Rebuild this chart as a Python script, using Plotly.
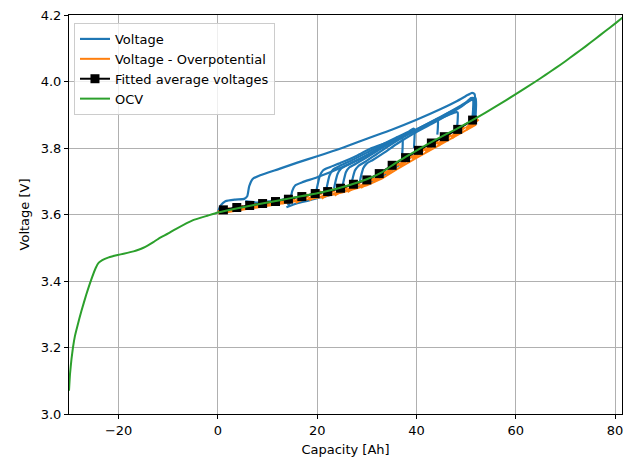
import plotly.graph_objects as go

# ---- Open-circuit voltage curve (capacity [Ah], voltage [V]) ----
ocv_cap = [-30.0, -29.8, -29.5, -29.2, -28.8, -28.3, -27.5, -26.5, -25.5, -24.6,
           -24.0, -23.3, -22.0, -20.2, -19.0, -17.0, -16.0, -15.0, -14.0, -13.0,
           -12.0, -10.0, -8.5, -5.0, -2.0, 0.0, 5.0, 10.0, 15.0, 20.0,
           25.0, 30.0, 33.0, 36.0, 40.0, 44.0, 48.0, 52.0, 56.0, 60.0,
           64.0, 66.0, 68.0, 70.0, 72.0, 74.0, 76.0, 78.0, 80.0, 82.0]
ocv_v = [3.070, 3.120, 3.165, 3.200, 3.235, 3.265, 3.310, 3.360, 3.405, 3.440,
         3.455, 3.463, 3.471, 3.478, 3.482, 3.489, 3.494, 3.500, 3.508, 3.517,
         3.527, 3.543, 3.556, 3.583, 3.597, 3.606, 3.622, 3.636, 3.650, 3.664,
         3.682, 3.706, 3.727, 3.757, 3.792, 3.826, 3.857, 3.890, 3.925, 3.962,
         4.000, 4.020, 4.040, 4.061, 4.083, 4.105, 4.128, 4.151, 4.174, 4.198]

# ---- Measured voltage, one list of (capacity, voltage) per charge run ----
run_0 = [(0.0, 3.608), (0.6, 3.628), (1.5, 3.640), (3.5, 3.645), (5.3, 3.647),
         (5.9, 3.655), (6.3, 3.685), (7.0, 3.707), (8.5, 3.718), (12.5, 3.738),
         (16.0, 3.756), (20.0, 3.775), (25.0, 3.800), (30.0, 3.828), (35.0, 3.855),
         (40.0, 3.885), (45.0, 3.918), (48.0, 3.940), (50.4, 3.960), (51.2, 3.966),
         (51.7, 3.962), (51.8, 3.930), (51.6, 3.895)]
run_14 = [(5.5, 3.640), (8.0, 3.636), (11.0, 3.640), (13.5, 3.645), (14.0, 3.635),
          (14.3, 3.628), (14.6, 3.645), (15.0, 3.672), (15.6, 3.688), (17.0, 3.697),
          (20.0, 3.712), (25.0, 3.742), (30.0, 3.778), (35.0, 3.818), (40.0, 3.856),
          (45.0, 3.895), (49.0, 3.928), (51.3, 3.948), (51.9, 3.950), (52.0, 3.930),
          (51.9, 3.895)]
run_20 = [(19.8, 3.668), (20.1, 3.690), (20.5, 3.715), (21.2, 3.733), (22.5, 3.742),
          (25.0, 3.757), (28.0, 3.777), (31.0, 3.800), (34.0, 3.816), (37.0, 3.830),
          (37.2, 3.826), (37.2, 3.800), (37.1, 3.776)]
run_22 = [(21.8, 3.672), (22.1, 3.694), (22.5, 3.718), (23.2, 3.735), (24.4, 3.745),
          (27.0, 3.763), (30.0, 3.786), (33.0, 3.810), (36.0, 3.832), (38.5, 3.850),
          (39.4, 3.858), (39.6, 3.855), (39.6, 3.830), (39.5, 3.800)]
run_23 = [(23.4, 3.678), (23.7, 3.700), (24.1, 3.722), (24.8, 3.738), (26.0, 3.748),
          (28.5, 3.766), (31.5, 3.792), (34.5, 3.818), (38.0, 3.842), (41.0, 3.862),
          (44.0, 3.886), (44.3, 3.888), (44.3, 3.860), (44.2, 3.840)]
run_25 = [(25.1, 3.685), (25.4, 3.706), (25.8, 3.728), (26.5, 3.742), (27.7, 3.752),
          (30.0, 3.772), (33.0, 3.800), (36.0, 3.826), (40.0, 3.856), (44.0, 3.884),
          (48.0, 3.908), (48.3, 3.907), (48.3, 3.885), (48.2, 3.865)]
run_27 = [(26.9, 3.692), (27.2, 3.712), (27.6, 3.732), (28.3, 3.746), (29.5, 3.757),
          (32.0, 3.782), (35.0, 3.812), (38.0, 3.838), (42.0, 3.868), (46.0, 3.902),
          (49.0, 3.926), (51.1, 3.945), (51.4, 3.943), (51.4, 3.915), (51.3, 3.895)]
run_28 = [(28.6, 3.700), (28.9, 3.720), (29.3, 3.740), (30.0, 3.754), (31.2, 3.764),
          (33.5, 3.786), (36.0, 3.812), (39.0, 3.840), (43.0, 3.872), (47.0, 3.906),
          (49.5, 3.930), (51.0, 3.950), (51.5, 3.950), (51.6, 3.920), (51.5, 3.900)]
rest_low = [(13.8, 3.622), (16.0, 3.634), (18.0, 3.641), (20.0, 3.649), (22.0, 3.656),
            (24.0, 3.664), (26.0, 3.672), (28.0, 3.682), (30.0, 3.692), (32.0, 3.705),
            (34.0, 3.724), (36.0, 3.744), (38.0, 3.764), (40.0, 3.782)]
voltage_runs = [run_0, run_14, run_20, run_22, run_23, run_25, run_27, run_28,
                rest_low]

# ---- Voltage with overpotential removed ----
corr_smooth = [(0.5, 3.604), (5.0, 3.615), (10.0, 3.627), (14.0, 3.636), (20.0, 3.650),
               (25.0, 3.666), (30.0, 3.688), (33.0, 3.708), (36.0, 3.736), (40.0, 3.770),
               (44.0, 3.804), (48.0, 3.836), (52.0, 3.870)]
corr_segments = [((0.0, 3.606), (2.4, 3.616)), ((2.5, 3.613), (5.1, 3.623)),
                 ((5.1, 3.619), (7.7, 3.629)), ((7.7, 3.625), (10.3, 3.635)),
                 ((10.3, 3.631), (12.9, 3.641)), ((12.9, 3.636), (15.5, 3.648)),
                 ((15.6, 3.638), (18.2, 3.658)), ((18.3, 3.645), (20.9, 3.667)),
                 ((20.8, 3.650), (23.4, 3.674)), ((23.4, 3.659), (26.0, 3.684)),
                 ((26.0, 3.670), (28.6, 3.696)), ((28.7, 3.682), (31.3, 3.711)),
                 ((31.2, 3.699), (33.8, 3.731)), ((33.8, 3.722), (36.4, 3.756)),
                 ((36.5, 3.746), (39.1, 3.779)), ((39.1, 3.768), (41.7, 3.801)),
                 ((41.7, 3.790), (44.3, 3.822)), ((44.3, 3.809), (46.9, 3.842)),
                 ((47.0, 3.831), (49.6, 3.864)), ((50.0, 3.857), (52.4, 3.888))]

# ---- Fitted average voltage per charge step ----
fit_cap = [1.1, 3.8, 6.4, 9.0, 11.6, 14.2, 16.9, 19.6, 22.1, 24.7,
           27.3, 30.0, 32.5, 35.1, 37.8, 40.4, 43.0, 45.6, 48.3, 51.3]
fit_v = [3.614, 3.621, 3.627, 3.633, 3.639, 3.646, 3.654, 3.663, 3.669, 3.679,
         3.691, 3.704, 3.723, 3.748, 3.771, 3.793, 3.815, 3.834, 3.856, 3.884]

# ---- Axis ticks ----
x_ticks = [-20, 0, 20, 40, 60, 80]
x_tick_text = ["\u221220", "0", "20", "40", "60", "80"]
y_ticks = [3.0, 3.2, 3.4, 3.6, 3.8, 4.0, 4.2]

BLUE, ORANGE, GREEN = "#1f77b4", "#ff7f0e", "#2ca02c"

fig = go.Figure()

for i, run in enumerate(voltage_runs):
    fig.add_trace(go.Scatter(
        x=[p[0] for p in run], y=[p[1] for p in run], mode="lines",
        line=dict(color=BLUE, width=2.2, shape="spline", smoothing=0.6),
        name="Voltage", legendgroup="v", showlegend=(i == 0)))

seg_x, seg_y = [], []
for a, b in corr_segments:
    seg_x += [a[0], b[0], None]
    seg_y += [a[1], b[1], None]
fig.add_trace(go.Scatter(
    x=seg_x, y=seg_y, mode="lines", line=dict(color=ORANGE, width=4),
    name="Voltage - Overpotential", legendgroup="o", showlegend=False))
fig.add_trace(go.Scatter(
    x=[p[0] for p in corr_smooth], y=[p[1] for p in corr_smooth], mode="lines",
    line=dict(color=ORANGE, width=2), name="Voltage - Overpotential",
    legendgroup="o"))

fig.add_trace(go.Scatter(
    x=fit_cap, y=fit_v, mode="lines+markers",
    line=dict(color="black", width=2),
    marker=dict(symbol="square", size=9, color="black"),
    name="Fitted average voltages"))

fig.add_trace(go.Scatter(
    x=ocv_cap, y=ocv_v, mode="lines",
    line=dict(color=GREEN, width=2, shape="spline", smoothing=0.4),
    name="OCV"))

axis_common = dict(
    showline=True, linecolor="black", linewidth=1, mirror=True,
    ticks="outside", ticklen=4, tickwidth=1, tickcolor="black",
    showgrid=True, gridcolor="#b0b0b0", gridwidth=1, zeroline=False,
    tickfont=dict(size=13, color="black"),
)

fig.update_layout(
    width=624, height=461,
    margin=dict(l=69, r=2, t=15, b=47),
    paper_bgcolor="white", plot_bgcolor="white",
    font=dict(family="DejaVu Sans", size=13, color="black"),
    xaxis=dict(range=[-30, 81.4], tickvals=x_ticks, ticktext=x_tick_text,
               title=dict(text="Capacity [Ah]", font=dict(size=13), standoff=8),
               **axis_common),
    yaxis=dict(range=[3.0, 4.2], tickvals=y_ticks, tickformat=".1f",
               title=dict(text="Voltage [V]", font=dict(size=13), standoff=8),
               **axis_common),
    legend=dict(x=0.009, y=0.98, xanchor="left", yanchor="top",
                bgcolor="rgba(255,255,255,0.8)", bordercolor="#cccccc",
                borderwidth=1, font=dict(size=13), tracegroupgap=2,
                traceorder="normal"),
    showlegend=True,
)

fig.write_html("out.html")
